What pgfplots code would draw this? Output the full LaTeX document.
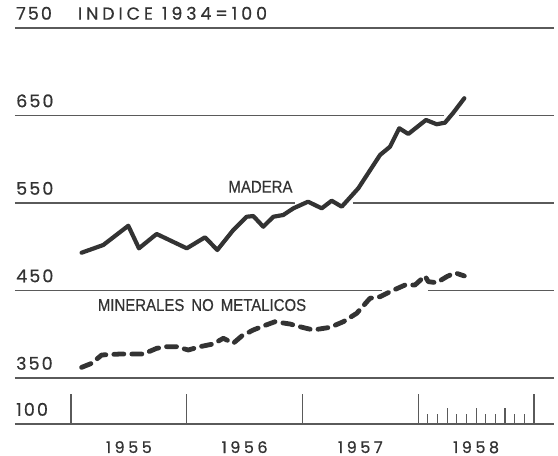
\documentclass[border=0pt]{standalone}
\usepackage{pgfplots}
\pgfplotsset{compat=1.18}
\usepackage{fontspec}
\setmainfont{Liberation Sans}
\newfontfamily\geo[LetterSpace=12, FakeBold=0.6]{Poppins}
\newfontfamily\geowide[LetterSpace=22, FakeBold=0.6]{Poppins}
\newfontfamily\lab[FakeStretch=0.88, FakeBold=0.5]{Liberation Sans}
\definecolor{ink}{HTML}{333333}
\definecolor{gridc}{HTML}{5A5A5A}

\pgfplotstableread{
t v
1955.092 493.2
1955.279 502.0
1955.495 524.0
1955.587 498.2
1955.740 514.6
1956.000 498.2
1956.158 510.8
1956.264 496.3
1956.402 519.1
1956.518 534.3
1956.575 535.1
1956.661 522.9
1956.748 534.3
1956.834 536.3
1956.921 543.9
1957.048 551.5
1957.166 543.9
1957.252 552.6
1957.339 545.8
1957.482 566.8
1957.670 604.9
1957.756 614.3
1957.836 635.4
1957.914 628.9
1958.067 644.9
1958.159 640.0
1958.231 641.8
1958.303 653.2
1958.398 669.7
}\madera

\pgfplotstableread{
t v
1955.092 362.2
1955.179 366.8
1955.265 376.3
1955.423 377.4
1955.625 377.4
1955.740 383.9
1955.827 385.8
1955.913 385.8
1956.013 382.0
1956.114 385.8
1956.229 388.9
1956.316 395.4
1956.402 389.7
1956.475 398.0
1956.575 404.9
1956.661 409.4
1956.762 414.3
1956.892 411.7
1957.004 407.7
1957.093 404.9
1957.238 407.9
1957.352 414.3
1957.468 423.9
1957.583 441.1
1957.670 442.9
1957.756 448.6
1957.886 456.3
1957.972 456.3
1958.058 466.6
1958.087 460.1
1958.159 458.9
1958.246 465.8
1958.317 470.3
1958.398 466.6
}\minerales

\begin{document}
\begin{tikzpicture}
\begin{axis}[
  name=ax, at={(0,0)}, anchor=south west,
  scale only axis, width=539pt, height=396pt,
  xmin=1954.5162, xmax=1959.1728, ymin=297.43, ymax=750,
  axis x line*=bottom, axis y line*=left,
  x axis line style={draw=gridc, line width=1.2pt},
  y axis line style={draw=none},
  ytick={297.43,350,450,550,650,750},
  yticklabels={100,350,450,550,650,{750\hskip 26pt{\geowide INDICE\hskip 9pt 1934=100}}},
  ytick style={draw=none},
  yticklabel style={anchor=south west, inner sep=0pt, xshift=1pt, yshift=8pt,
    font=\geo\fontsize{17.5}{18}\selectfont, text=ink},
  /pgf/number format/assume math mode=true,
  xtick={1955,1956,1957,1958,1959},
  xticklabels={},
  tick align=inside,
  major tick length=30pt, minor tick length=10pt,
  minor xtick={1958.0833,1958.1667,1958.3333,1958.4167,1958.5833,1958.6667,1958.8333,1958.9167},
  xtick style={draw=gridc, line width=1.2pt},
  extra x ticks={1958.25,1958.5,1958.75},
  extra x tick labels={},
  extra x tick style={major tick length=16pt},
  clip=false,
]
% grid lines (with the gaps of the original)
\addplot[gridc, line width=1.2pt] coordinates {(1954.5162,350) (1959.1728,350)};
\addplot[gridc, line width=1.2pt] coordinates {(1954.5162,450) (1957.687,450)};
\addplot[gridc, line width=1.2pt] coordinates {(1958.084,450) (1959.1728,450)};
\addplot[gridc, line width=1.2pt] coordinates {(1954.5162,550) (1956.935,550)};
\addplot[gridc, line width=1.2pt] coordinates {(1957.436,550) (1959.1728,550)};
\addplot[gridc, line width=1.2pt] coordinates {(1954.5162,650) (1958.222,650)};
\addplot[gridc, line width=1.2pt] coordinates {(1958.352,650) (1959.1728,650)};
\addplot[gridc, line width=1.2pt] coordinates {(1954.5162,750) (1959.1728,750)};

\addplot[ink, line width=4.2pt, line join=round, line cap=round] table[x=t,y=v] {\madera};
\addplot[ink, line width=4.8pt, line join=round, line cap=round, dash pattern=on 10pt off 8pt] table[x=t,y=v] {\minerales};

\node[font=\lab\fontsize{17}{17}\selectfont, text=ink] at (axis cs:1956.637,568.6) {MADERA};
\node[font=\lab\fontsize{17}{17}\selectfont, text=ink] at (axis cs:1956.132,433.4) {MINERALES\hspace{7pt}NO\hspace{7pt}METALICOS};

\node[font=\geowide\fontsize{16}{16}\selectfont, text=ink, anchor=north, inner sep=0pt, yshift=-17pt] at (axis cs:1955.5,297.43) {1955};
\node[font=\geowide\fontsize{16}{16}\selectfont, text=ink, anchor=north, inner sep=0pt, yshift=-17pt] at (axis cs:1956.5,297.43) {1956};
\node[font=\geowide\fontsize{16}{16}\selectfont, text=ink, anchor=north, inner sep=0pt, yshift=-17pt] at (axis cs:1957.5,297.43) {1957};
\node[font=\geowide\fontsize{16}{16}\selectfont, text=ink, anchor=north, inner sep=0pt, yshift=-17pt] at (axis cs:1958.5,297.43) {1958};
\end{axis}
\pgfresetboundingbox
\path[use as bounding box] (-15pt,-32pt) rectangle (543pt,424pt);
\end{tikzpicture}
\end{document}
